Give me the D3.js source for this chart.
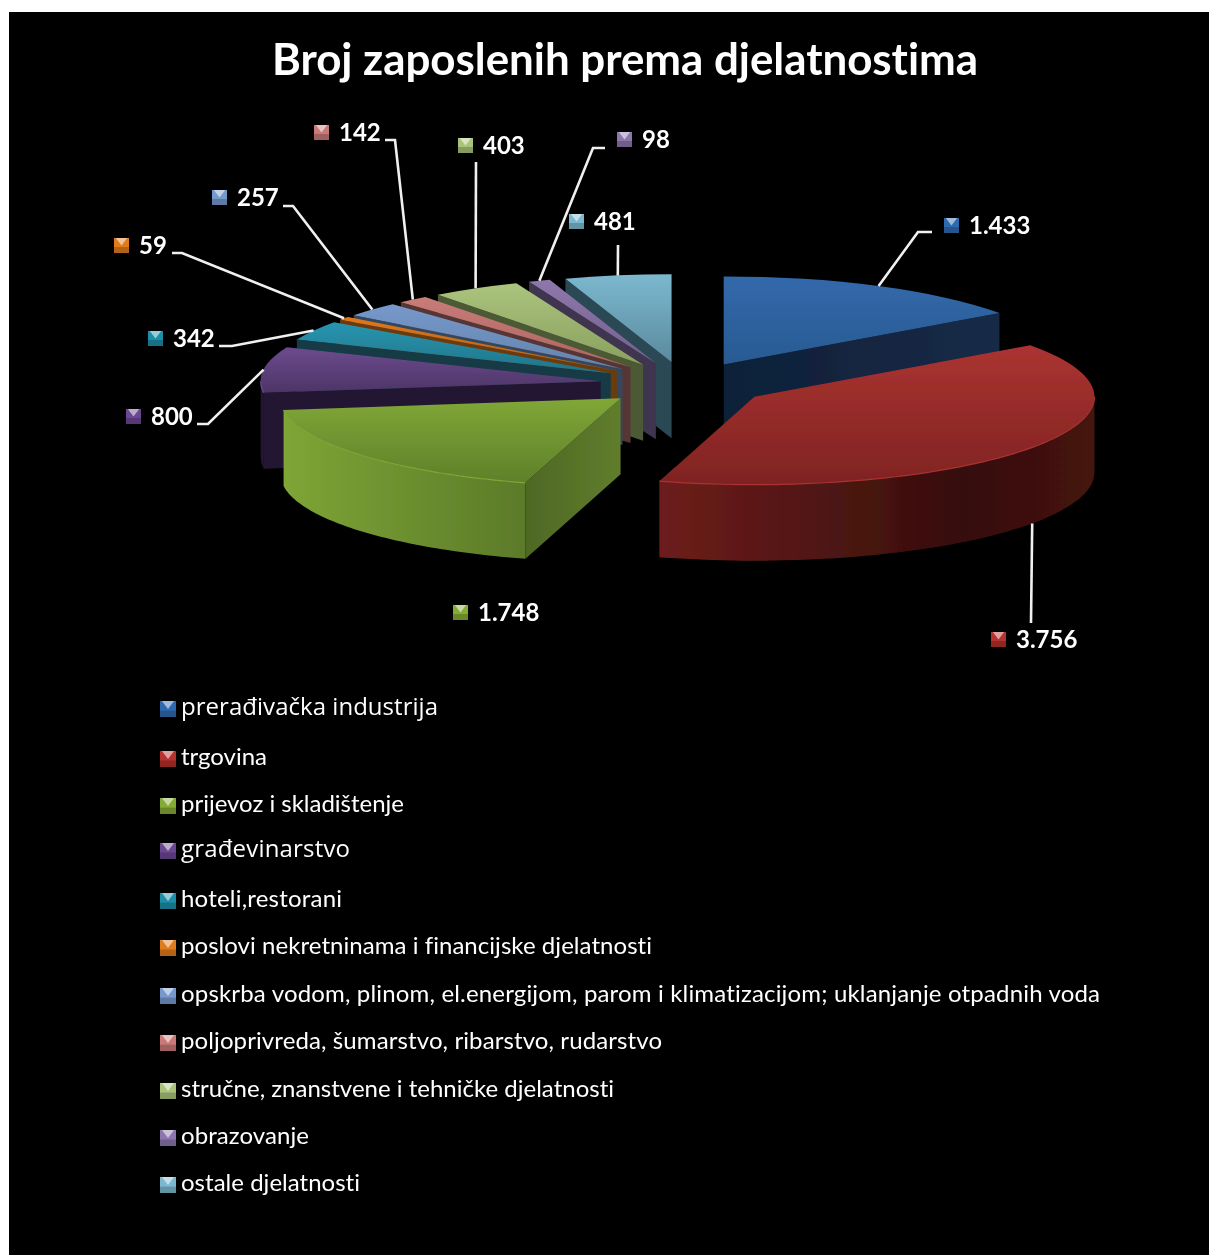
<!DOCTYPE html>
<html>
<head>
<meta charset="utf-8">
<script src="https://cdn.jsdelivr.net/npm/d3@7"></script>
<style>
  html, body { margin: 0; padding: 0; background: #fff; }
  svg { display: block; }
  text { fill: #fff; font-family: Lato, sans-serif; font-variant-ligatures: none; }
</style>
</head>
<body>
<div id="chart"></div>
<script>
const categories = [
  "prerađivačka industrija", "trgovina", "prijevoz i skladištenje", "građevinarstvo",
  "hoteli,restorani", "poslovi nekretninama i financijske djelatnosti",
  "opskrba vodom, plinom, el.energijom, parom i klimatizacijom; uklanjanje otpadnih voda",
  "poljoprivreda, šumarstvo, ribarstvo, rudarstvo",
  "stručne, znanstvene i tehničke djelatnosti", "obrazovanje", "ostale djelatnosti"
];
const values = [1433, 3756, 1748, 800, 342, 59, 257, 142, 403, 98, 481];
const valueLabels = ["1.433", "3.756", "1.748", "800", "342", "59", "257", "142", "403", "98", "481"];

// top gradient, then wall gradient (left to right), then the dark cut face
const topLight = ["#3369ab", "#ab3331", "#80a737", "#6c4b8e", "#2895b1", "#e0781c", "#7699cb", "#c97c79", "#abc47d", "#8e78ab", "#7cb8cf"];
const topDark = ["#285a92", "#7f2322", "#5f802a", "#4c3566", "#217488", "#b8600f", "#6583ad", "#ad6462", "#89a05f", "#75608f", "#5b8a9e"];
const wallColors = [
  ["#142743", "#142743", "#162b47"], ["#6d1d1b", "#360e0c", "#451311"], ["#7ea535", "#66872d", "#5c7a29"],
  ["#241830", "#241830", "#241830"], ["#123a46", "#123a46", "#123a46"], ["#6b3a0a", "#6b3a0a", "#6b3a0a"],
  ["#36465c", "#36465c", "#36465c"], ["#573434", "#573434", "#573434"], ["#4b5a35", "#4b5a35", "#4b5a35"],
  ["#3f3450", "#3f3450", "#3f3450"], ["#2c4a54", "#2c4a54", "#2c4a54"]
];
const faceLeft = ["#0f2038", "#6b1c1a", "#4e6824", "#241830", "#123a46", "#6b3a0a", "#36465c", "#573434", "#4b5a35", "#3f3450", "#2c4a54"];
const faceRight = ["#162b47", "#6b1c1a", "#607d2c", "#241830", "#123a46", "#6b3a0a", "#36465c", "#573434", "#4b5a35", "#3f3450", "#2c4a54"];
const markerColors = ["#2f6bb0", "#b5302e", "#84ab35", "#6a4791", "#1f8ea8", "#e07b1a", "#7499cc", "#c97a78", "#a9c47a", "#8d76ad", "#7cb9d0"];

// chart layout
const width = 1209, height = 1255;
const cx = 685, cy = 384, rx = 340, ry = 88, depth = 76, explode = 0.25;

// leader lines, from the slice edge out to the label (green has none)
const leaders = [
  [[918, 232], [932, 232]], [[1031, 623]], null, [[208, 424], [197, 424]], [[232, 346], [219, 346]],
  [[182, 253], [172, 253]], [[293, 206], [283, 206]], [[395, 140], [385, 140]], [[476, 162]], [[593, 148], [605, 148]], [[618, 245]]
];
const labelPos = [
  [944, 226], [991, 640], [453, 613], [126, 417], [148, 339], [114, 246], [212, 198], [314, 133], [458, 146], [617, 140], [569, 222]
];
const legendY = [707, 757, 804, 849, 899, 946, 994, 1041, 1089, 1136, 1183];
const legendWidths = [257, 86, 223, 169, 161, 471, 919, 481, 433, 128, 179];

const svg = d3.select("#chart").append("svg").attr("width", width).attr("height", height);
const defs = svg.append("defs");
svg.append("rect").attr("x", 9).attr("y", 12).attr("width", width - 9).attr("height", height - 12).attr("fill", "#000");

// the reference is a slightly soft screenshot
defs.append("filter").attr("id", "soft").attr("filterUnits", "userSpaceOnUse")
  .attr("x", 0).attr("y", 0).attr("width", width).attr("height", height)
  .append("feGaussianBlur").attr("stdDeviation", 0.5);
const content = svg.append("g").attr("filter", "url(#soft)");

const pie = d3.pie().sort(null).value(d => d).startAngle(0).endAngle(2 * Math.PI);
const slices = pie(values).map((d, i) => {
  const mid = (d.startAngle + d.endAngle) / 2;
  return {
    i, a0: d.startAngle, a1: d.endAngle, mid, d,
    ox: cx + explode * rx * Math.sin(mid),
    oy: cy - explode * ry * Math.cos(mid)
  };
});

const edge = (s, a, z = 0) => [s.ox + rx * Math.sin(a), s.oy - ry * Math.cos(a) + z];

values.forEach((v, i) => {
  const t = defs.append("linearGradient").attr("id", "top" + i).attr("x1", 0).attr("y1", 0).attr("x2", 0).attr("y2", 1);
  t.append("stop").attr("offset", 0).attr("stop-color", topLight[i]);
  t.append("stop").attr("offset", 1).attr("stop-color", topDark[i]);
  const w = defs.append("linearGradient").attr("id", "wall" + i);
  wallColors[i].forEach((c, k) => w.append("stop").attr("offset", [0, 0.7, 1][k]).attr("stop-color", c));
  const f = defs.append("linearGradient").attr("id", "face" + i);
  f.append("stop").attr("offset", 0).attr("stop-color", faceLeft[i]);
  f.append("stop").attr("offset", 1).attr("stop-color", faceRight[i]);
});

const arc = d3.arc().innerRadius(0).outerRadius(rx);
const line = d3.line();
const pieG = content.append("g");

// back slices first so the front ones cover them
slices.slice().sort((a, b) => Math.cos(b.mid) - Math.cos(a.mid)).forEach(s => {
  const g = pieG.append("g").attr("class", "slice");
  const apex = [s.ox, s.oy], apexLow = [s.ox, s.oy + depth];
  const face = a => line([apex, edge(s, a), edge(s, a, depth), apexLow]) + "Z";

  if (Math.sin(s.a0) < 0) g.append("path").attr("d", face(s.a0)).attr("fill", `url(#face${s.i})`);
  if (Math.sin(s.a1) > 0) g.append("path").attr("d", face(s.a1)).attr("fill", `url(#face${s.i})`);

  // outer wall, only the part that faces the viewer
  const w0 = Math.max(s.a0, Math.PI / 2), w1 = Math.min(s.a1, 3 * Math.PI / 2);
  if (w1 > w0) {
    const steps = d3.range(0, 61).map(k => w0 + (w1 - w0) * k / 60);
    const pts = steps.map(a => edge(s, a)).concat(steps.slice().reverse().map(a => edge(s, a, depth)));
    g.append("path").attr("d", line(pts) + "Z").attr("fill", `url(#wall${s.i})`);
  }

  g.append("path")
    .attr("d", arc(s.d))
    .attr("transform", `translate(${s.ox},${s.oy}) scale(1,${ry / rx})`)
    .attr("fill", `url(#top${s.i})`);

  // thin light bevel along the front rim
  if (w1 > w0) {
    const rim = d3.range(0, 61).map(k => edge(s, w0 + (w1 - w0) * k / 60));
    g.append("path").attr("d", line(rim)).attr("fill", "none")
      .attr("stroke", topLight[s.i]).attr("stroke-width", 1.2);
  }
});

// leader lines
const leaderG = content.append("g").attr("fill", "none").attr("stroke", "#f0f0f0").attr("stroke-width", 2.6);
slices.forEach(s => {
  if (!leaders[s.i]) return;
  const front = Math.cos(s.mid) < 0;
  leaderG.append("path").attr("d", line([edge(s, s.mid, front ? depth : 0), ...leaders[s.i]]));
});

function marker(parent, x, y, size, color) {
  const g = parent.append("g").attr("transform", `translate(${x},${y})`);
  g.append("rect").attr("width", size).attr("height", size).attr("fill", color);
  g.append("rect").attr("y", size * 0.6).attr("width", size).attr("height", size * 0.4).attr("fill", "#000").attr("opacity", 0.2);
  g.append("path")
    .attr("d", line([[size * 0.12, 0], [size * 0.88, 0], [size / 2, size * 0.5]]) + "Z")
    .attr("fill", "#fff").attr("opacity", 0.55);
}

// data labels
const labelG = content.append("g");
valueLabels.forEach((t, i) => {
  const [x, y] = labelPos[i];
  marker(labelG, x, y - 8, 15, markerColors[i]);
  labelG.append("text").attr("x", x + 25).attr("y", y + 8)
    .attr("font-size", 24).attr("font-weight", 700).text(t);
});

// title
content.append("text").attr("x", 625).attr("y", 75).attr("text-anchor", "middle")
  .attr("textLength", 706).attr("lengthAdjust", "spacing")
  .attr("font-size", 43.9).attr("font-weight", 700).text("Broj zaposlenih prema djelatnostima");

// legend
const legendG = content.append("g");
categories.forEach((t, i) => {
  marker(legendG, 160, legendY[i] - 6, 16, markerColors[i]);
  const label = legendG.append("text").attr("x", 181).attr("y", legendY[i] + 8).attr("font-size", 24)
    .attr("textLength", legendWidths[i]).attr("lengthAdjust", "spacing").text(t);
  if (t.includes("đ")) label.style("font-family", "'Open Sans', sans-serif").attr("font-size", 24);
});
</script>
</body>
</html>
